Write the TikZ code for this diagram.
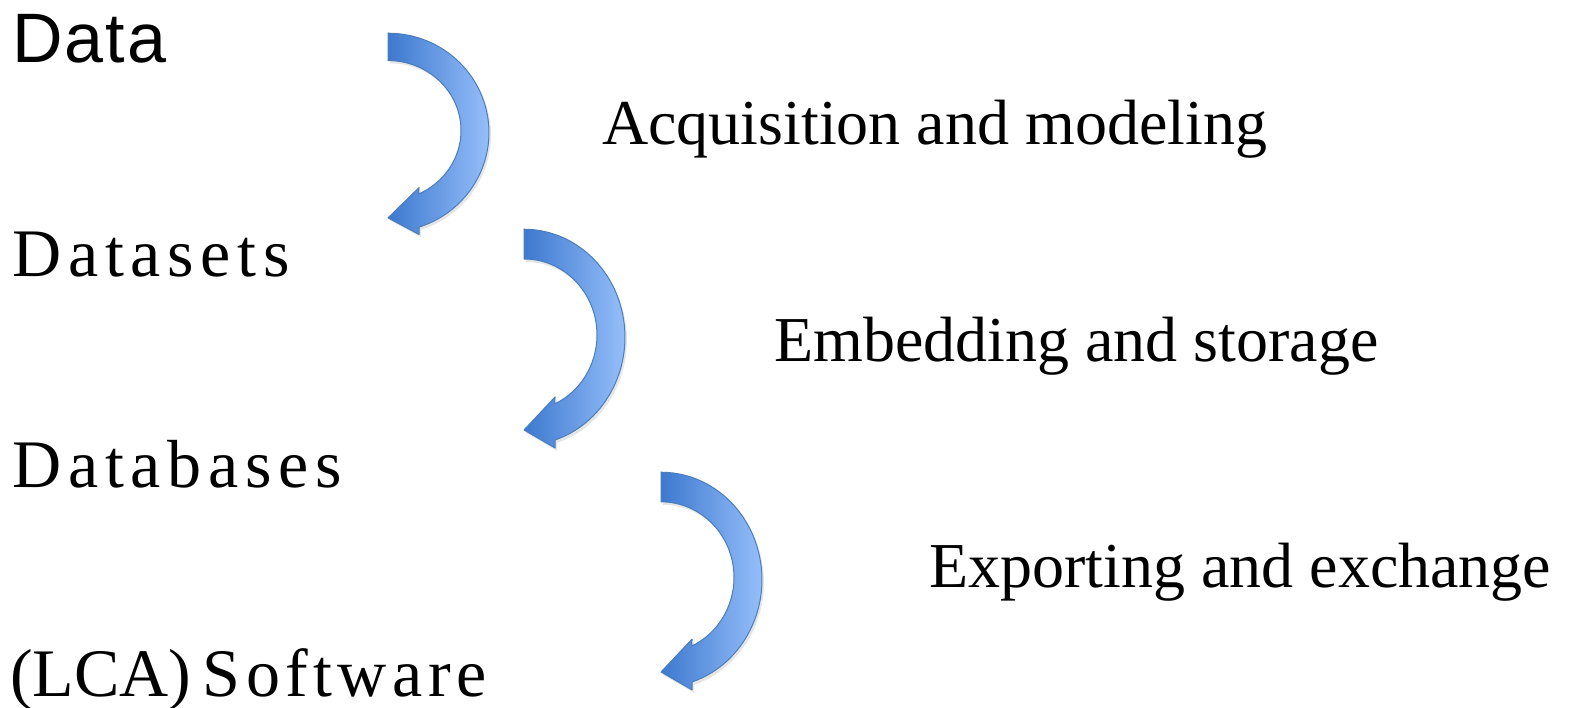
\documentclass[tikz,border=0pt]{standalone}
\usepackage{fontspec}
\setmainfont{Liberation Serif}
\newfontfamily\arialfont[LetterSpace=3]{Liberation Sans}
\newfontfamily\spacedserif[LetterSpace=10]{Liberation Serif}
\newfontfamily\spacedserifb[LetterSpace=8]{Liberation Serif}
\definecolor{arrowdark}{HTML}{3D79CF}
\definecolor{arrowlight}{HTML}{A0C6FF}
\definecolor{arrowline}{HTML}{4A7EBB}
\tikzset{
  lefttext/.style={anchor=base west, inner sep=0pt, font=\spacedserif\fontsize{68}{74}\selectfont},
  righttext/.style={anchor=base west, inner sep=0pt, font=\fontsize{64}{70}\selectfont},
  arrowbody/.style={left color=arrowdark, right color=arrowlight, draw=arrowline, line width=1pt, line join=round},
  arrowshadow/.style={fill=black, opacity=0.10},
  curvarrow/.pic={
    \fill[arrowshadow, shift={(2,-3)}] (0,0) -- (0,-30)
      arc[start angle=90, end angle=-64.9, x radius=73, y radius=76]
      -- (31,-168) -- (0,-201) -- (31,-219) -- (31,-211)
      arc[start angle=-72.1, end angle=90, x radius=101, y radius=108] -- cycle;
    \path[arrowbody] (0,0) -- (0,-30)
      arc[start angle=90, end angle=-64.9, x radius=73, y radius=76]
      -- (31,-168) -- (0,-201) -- (31,-219) -- (31,-211)
      arc[start angle=-72.1, end angle=90, x radius=101, y radius=108] -- cycle;
  }
}
\begin{document}
\begin{tikzpicture}[x=1pt, y=1pt]
\useasboundingbox (0,0) rectangle (1569,707);
% arrows
\pic[yscale=0.92] at (388,674) {curvarrow};
\pic at (524,478) {curvarrow};
\pic[yscale=0.995] at (661,235) {curvarrow};
% left column
\node[anchor=base west, inner sep=0pt, font=\arialfont\fontsize{70}{76}\selectfont] (data) at (12,644) {Data};
\node[lefttext] (datasets) at (12,430) {Datasets};
\node[lefttext] (databases) at (12,219) {Databases};
\node[anchor=base west, inner sep=0pt, font=\fontsize{68}{74}\selectfont] (software) at (10,11) {(LCA)\,{\spacedserifb Software}};
% right column
\node[righttext] (acq) at (602,562) {Acquisition and modeling};
\node[righttext] (emb) at (774,345) {Embedding and storage};
\node[righttext] (exp) at (929,119) {Exporting and exchange};
\end{tikzpicture}
\end{document}
